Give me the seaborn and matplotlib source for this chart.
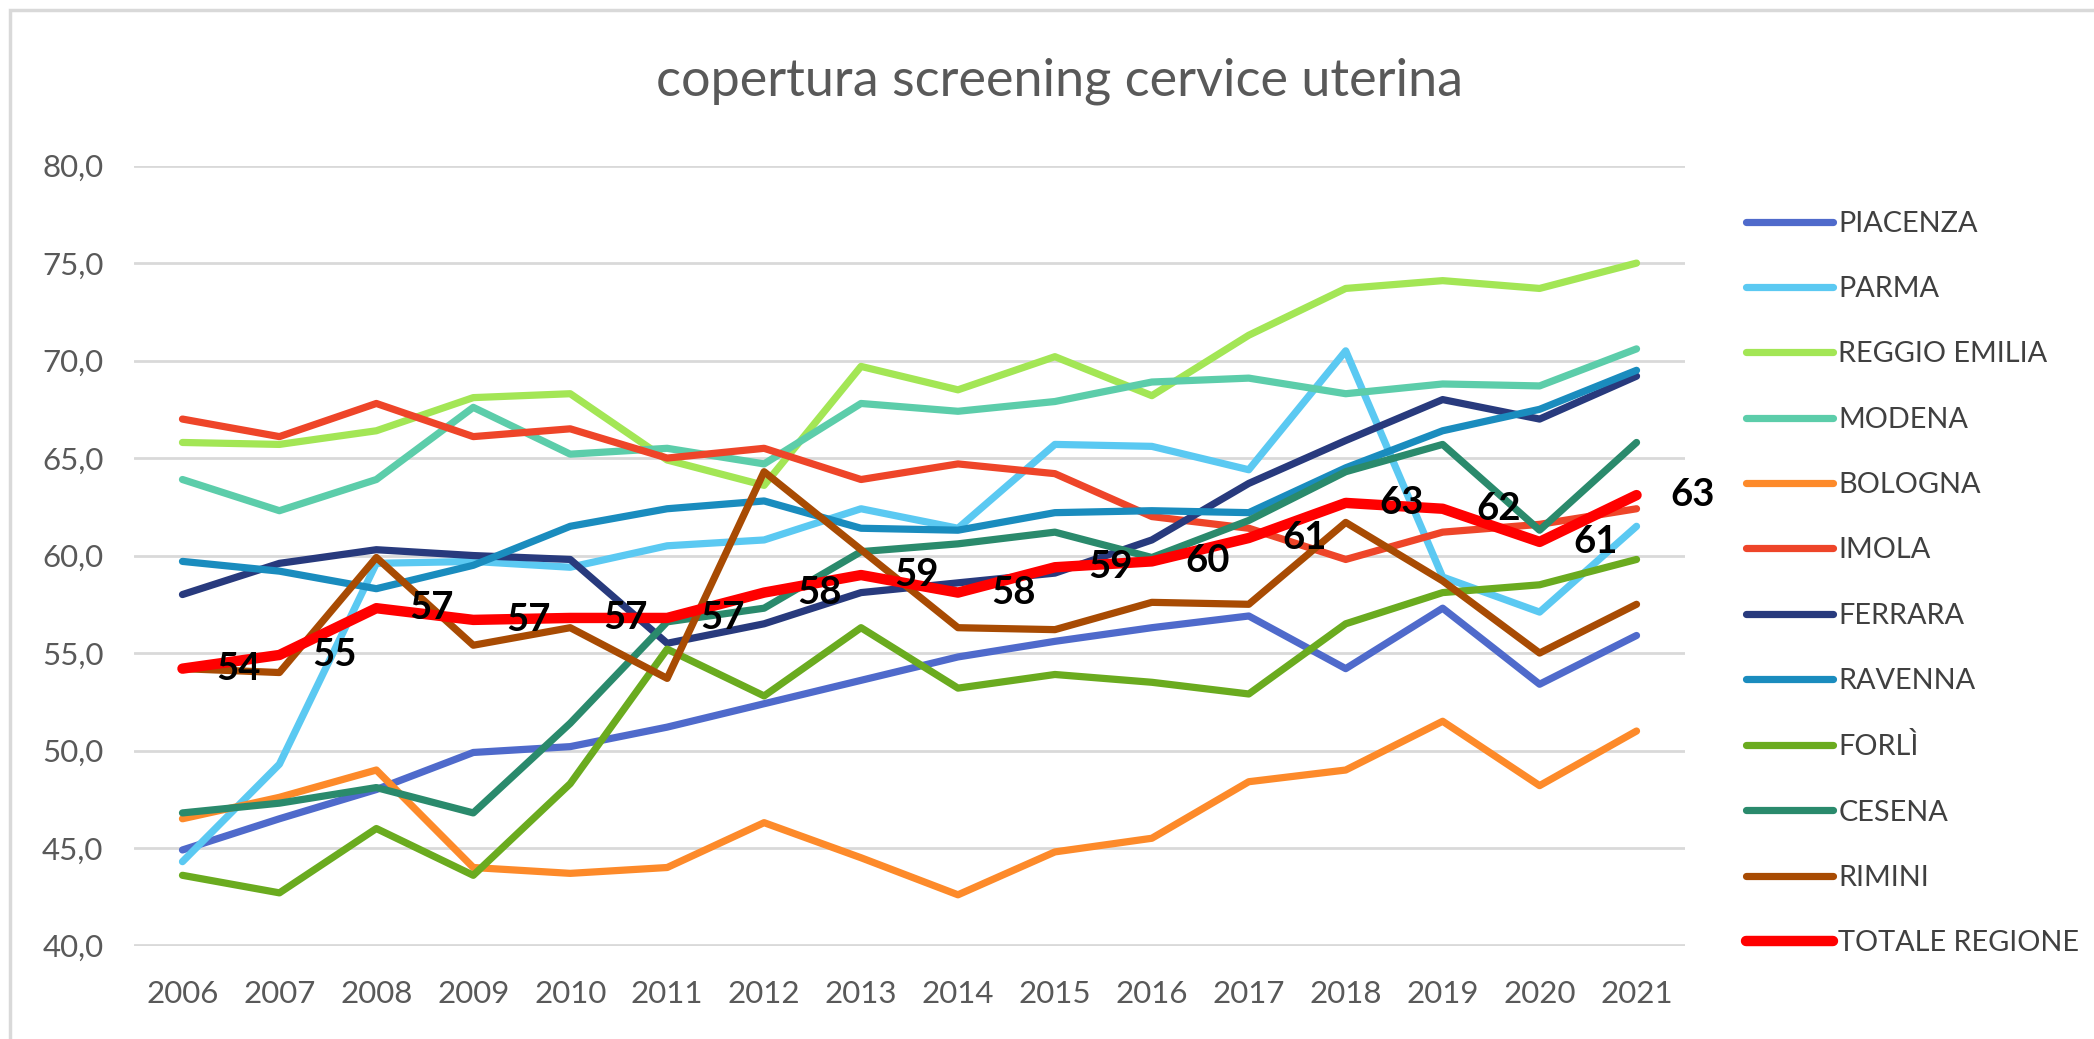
import pandas as pd
import numpy as np
import matplotlib
matplotlib.use("Agg")
import matplotlib.pyplot as plt
from matplotlib.patches import Rectangle
import seaborn as sns

# dati (copertura %)
anni = list(range(2006, 2022))
piacenza = [44.9, 46.5, 48.0, 49.9, 50.2, 51.2, 52.4, 53.6, 54.8, 55.6, 56.3, 56.9, 54.2, 57.3, 53.4, 55.9]
parma = [44.3, 49.3, 59.6, 59.7, 59.4, 60.5, 60.8, 62.4, 61.4, 65.7, 65.6, 64.4, 70.5, 58.9, 57.1, 61.5]
reggio_emilia = [65.8, 65.7, 66.4, 68.1, 68.3, 64.9, 63.6, 69.7, 68.5, 70.2, 68.2, 71.3, 73.7, 74.1, 73.7, 75.0]
modena = [63.9, 62.3, 63.9, 67.6, 65.2, 65.5, 64.7, 67.8, 67.4, 67.9, 68.9, 69.1, 68.3, 68.8, 68.7, 70.6]
bologna = [46.5, 47.6, 49.0, 44.0, 43.7, 44.0, 46.3, 44.5, 42.6, 44.8, 45.5, 48.4, 49.0, 51.5, 48.2, 51.0]
imola = [67.0, 66.1, 67.8, 66.1, 66.5, 65.0, 65.5, 63.9, 64.7, 64.2, 62.0, 61.4, 59.8, 61.2, 61.6, 62.4]
ferrara = [58.0, 59.6, 60.3, 60.0, 59.8, 55.5, 56.5, 58.1, 58.6, 59.1, 60.8, 63.7, 65.9, 68.0, 67.0, 69.2]
ravenna = [59.7, 59.2, 58.3, 59.5, 61.5, 62.4, 62.8, 61.4, 61.3, 62.2, 62.3, 62.2, 64.5, 66.4, 67.5, 69.5]
forli = [43.6, 42.7, 46.0, 43.6, 48.3, 55.2, 52.8, 56.3, 53.2, 53.9, 53.5, 52.9, 56.5, 58.1, 58.5, 59.8]
cesena = [46.8, 47.3, 48.1, 46.8, 51.4, 56.6, 57.3, 60.2, 60.6, 61.2, 59.9, 61.8, 64.3, 65.7, 61.3, 65.8]
rimini = [54.2, 54.0, 59.9, 55.4, 56.3, 53.7, 64.3, 60.3, 56.3, 56.2, 57.6, 57.5, 61.7, 58.7, 55.0, 57.5]
totale = [54.2, 54.9, 57.3, 56.7, 56.8, 56.8, 58.1, 59.0, 58.1, 59.4, 59.7, 60.9, 62.7, 62.4, 60.7, 63.1]

aree = ["PIACENZA", "PARMA", "REGGIO EMILIA", "MODENA", "BOLOGNA", "IMOLA",
        "FERRARA", "RAVENNA", "FORLÌ", "CESENA", "RIMINI"]
serie = [piacenza, parma, reggio_emilia, modena, bologna, imola,
         ferrara, ravenna, forli, cesena, rimini]
colori = ["#4f6acb", "#5bc9f2", "#a3e655", "#5ccdaa", "#fd8a2a", "#ee4529",
          "#283a7d", "#1a8cbe", "#6aab1f", "#2a8a6c", "#a84b03"]

df = pd.DataFrame({"anno": anni * len(aree),
                   "area": np.repeat(aree, len(anni)),
                   "valore": np.concatenate(serie)})
df_tot = pd.DataFrame({"anno": anni, "valore": totale})

sns.set_style("white")
plt.rcParams["font.family"] = ["Lato", "DejaVu Sans"]
grigio = "#595959"

fig = plt.figure(figsize=(20.94, 10.39), dpi=100)
ax = fig.add_axes([134 / 2094, 1 - 945.5 / 1039, (1685 - 134) / 2094, (945.5 - 165.6) / 1039])

sns.lineplot(data=df, x="anno", y="valore", hue="area", hue_order=aree,
             palette=dict(zip(aree, colori)), linewidth=5.2, ax=ax,
             solid_capstyle="round", solid_joinstyle="round")
sns.lineplot(data=df_tot, x="anno", y="valore", color="#ff0000", linewidth=7.5,
             label="TOTALE REGIONE", ax=ax, solid_capstyle="round", solid_joinstyle="round")

# etichette dati sul totale (a destra del punto)
for a, v in zip(anni, totale):
    ax.annotate(f"{v:.0f}", (a, v), xytext=(40, 0), textcoords="offset points",
                ha="center", va="center", fontsize=27.5, fontweight="bold", color="black")

ax.set_xlim(2005.5, 2021.5)
ax.set_ylim(40, 80)
ax.set_xticks(anni)
ax.set_yticks(range(40, 81, 5))
ax.set_yticklabels([f"{t},0" for t in range(40, 81, 5)])
ax.tick_params(axis="y", length=0, pad=22, labelsize=22.5, labelcolor=grigio)
ax.tick_params(axis="x", length=0, pad=25, labelsize=22.5, labelcolor=grigio)
ax.set_xlabel("")
ax.set_ylabel("")
ax.grid(axis="y", color="#d9d9d9", linewidth=2)
ax.set_axisbelow(True)
for s in ax.spines.values():
    s.set_visible(False)

handles, labels = ax.get_legend_handles_labels()
ax.legend_.remove()
leg = fig.legend(handles, labels, loc="center left", bbox_to_anchor=(1746 / 2094, 1 - 583.5 / 1039),
                 frameon=False, fontsize=20.8, labelspacing=1.36, handlelength=3.0,
                 handletextpad=0.2, borderpad=0, borderaxespad=0)
for t in leg.get_texts():
    t.set_color("#404040")
for h in leg.get_lines():
    h.set_solid_capstyle("round")

fig.text(0.506, 1 - 81 / 1039, "copertura screening cervice uterina",
         ha="center", va="center", fontsize=37.5, color=grigio)

# bordo dell'area del grafico
fig.patches.append(Rectangle((9.5 / 2094, -0.05), 1.1, 1.05 - 10 / 1039, transform=fig.transFigure,
                             fill=False, edgecolor="#d9d9d9", linewidth=2.5))

fig.savefig("out.png", dpi=100)
